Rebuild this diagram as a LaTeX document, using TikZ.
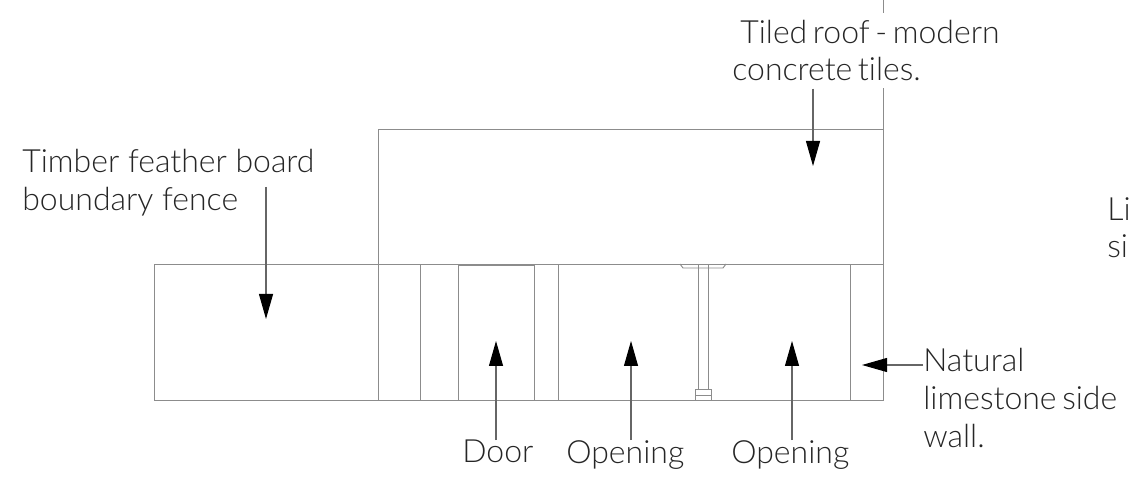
\documentclass[tikz,border=0pt]{standalone}
\usepackage{fontspec}
\setmainfont{Lato Light}[Ligatures=CommonOff]
\usetikzlibrary{arrows.meta}
\tikzset{wall/.style={draw=black!45,line width=0.55pt},
         callout/.style={draw=black!60,line width=0.6pt,-{Triangle[length=5mm,width=2.8mm,fill=black,color=black]}},
         note/.style={fill=white,text=black!85,inner sep=0pt,align=left,anchor=north west,font=\fontsize{18.2}{21.5}\selectfont},
         tight/.style={execute at begin node={\spaceskip=0.65\fontdimen2\font}},
        }

\begin{document}
\begin{tikzpicture}
        \useasboundingbox(0,0)rectangle(22.58,9.7);

        \draw[wall](3.08,1.7)rectangle(17.66,4.42);
        \draw[wall](7.56,4.42)--(7.56,7.12)--(17.66,7.12);
        \draw[wall](17.66,1.7)--(17.66,9.7);
        \draw[wall](7.56,1.7)--(7.56,4.42);
        \draw[wall](8.4,1.7)--(8.4,4.42);
        \draw[wall](11.16,1.7)--(11.16,4.42);
        \draw[wall](17,1.7)--(17,4.42);
        \draw[wall](9.16,1.7)rectangle(10.68,4.4);

        % post under the beam
        \draw[wall](13.96,1.92)--(13.96,4.42);
        \draw[wall](14.16,1.92)--(14.16,4.42);
        \draw[wall](13.9,1.7)rectangle(14.22,1.92);
        \draw[wall](13.9,1.8)--(14.22,1.8);
        \draw[wall](13.6,4.42)--(13.66,4.34)--(14.46,4.34)--(14.52,4.42);

        \node[note,tight,inner ysep=0.14cm](roof)at(14.64,9.45){\hspace{0.16cm}Tiled roof - modern\\concrete tiles.};
        \node[note](fence)at(0.44,6.72){Timber feather board\\boundary fence};
        \node[note,tight](side)at(18.46,2.74){Natural\\limestone side\\wall.};
        \node[note](far)at(22.14,5.76){Li\\si};
        \node[note](door)at(9.24,0.9){Door};
        \node[note](openA)at(11.32,0.9){Opening};
        \node[note](openB)at(14.62,0.9){Opening};

        \coordinate(tipRoof)at(16.26,6.38);
        \coordinate(tipFence)at(5.32,3.32);
        \coordinate(startFence)at(5.32,5.96);
        \coordinate(tipDoor)at(9.92,2.88);
        \coordinate(tipOpenA)at(12.62,2.88);
        \coordinate(tipOpenB)at(15.84,2.88);
        \coordinate(tipSide)at(17.24,2.4);

        \draw[callout](tipRoof|-roof.south)--(tipRoof);
        \draw[callout](startFence)--(tipFence);
        \draw[callout](tipDoor|-door.north)--(tipDoor);
        \draw[callout](tipOpenA|-openA.north)--(tipOpenA);
        \draw[callout](tipOpenB|-openB.north)--(tipOpenB);
        \draw[callout](side.west|-tipSide)--(tipSide);
    \end{tikzpicture}
\end{document}
